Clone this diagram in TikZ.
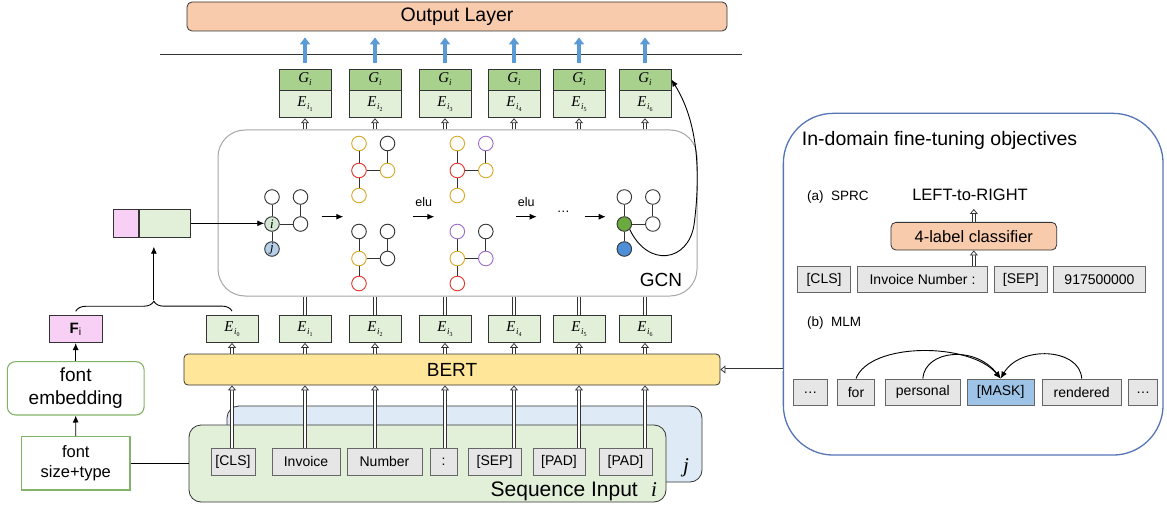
\documentclass[tikz,border=0pt]{standalone}
\usepackage{fontspec}
\setmainfont{Liberation Sans}
\newfontfamily\tms{Liberation Serif}
\usetikzlibrary{arrows.meta,decorations.pathreplacing,calc}
\definecolor{peach}{HTML}{F8CBAD}
\definecolor{gfill}{HTML}{A9D18E}
\definecolor{efill}{HTML}{E2F0D9}
\definecolor{bertfill}{HTML}{FFE699}
\definecolor{jfill}{HTML}{DEEBF7}
\definecolor{tokgray}{HTML}{E7E6E6}
\definecolor{pinkf}{HTML}{F9D0F5}
\definecolor{fgreen}{HTML}{82B366}
\definecolor{gold}{HTML}{D9A825}
\definecolor{redc}{HTML}{E0352B}
\definecolor{purp}{HTML}{9B6CCB}
\definecolor{gcngray}{HTML}{A6A6A6}
\definecolor{arrblue}{HTML}{5B9BD5}
\definecolor{ngreen}{HTML}{6AAA3F}
\definecolor{nblue}{HTML}{4D8FD6}
\definecolor{ilight}{HTML}{D5E8D4}
\definecolor{jlight}{HTML}{B5CFE8}
\definecolor{maskf}{HTML}{9DC3E6}
\definecolor{panelc}{HTML}{5575B5}
\definecolor{dk}{HTML}{333333}

\newcommand\Elab[1]{{\fontsize{15}{15}\selectfont\tms\itshape E}\kern0.5pt\raisebox{-3pt}{\fontsize{9}{9}\selectfont\tms\itshape i}\raisebox{-5pt}{\fontsize{6}{6}\selectfont\tms #1}}
\newcommand\Glab{{\fontsize{15}{15}\selectfont\tms\itshape G}\raisebox{-3pt}{\fontsize{9}{9}\selectfont\tms\itshape i}}

\newcommand\ggraph[8]{%
  \node[gn,#4] (#1TL) at (#2,#3) {};
  \node[gn,#5] (#1TR) at ($(#2,#3)+(28.5,0)$) {};
  \node[gn,#6] (#1ML) at ($(#2,#3)+(0,27)$) {};
  \node[gn,#7] (#1MR) at ($(#2,#3)+(28.5,27)$) {};
  \node[gn,#8] (#1BL) at ($(#2,#3)+(0,52)$) {};
  \draw[gedge] (#1TL) -- (#1ML) (#1ML) -- (#1BL) (#1ML) -- (#1MR) (#1TR) -- (#1MR);
}

\begin{document}
\begin{tikzpicture}[x=1pt,y=-1pt,
  bx/.style={draw=dk, line width=0.8pt, inner sep=0pt},
  tok/.style={draw=black!60, line width=0.8pt, fill=tokgray, inner sep=0pt, minimum height=27pt, font=\fontsize{14}{16}\selectfont},
  dline/.style={draw=dk, double=white, double distance=2pt, line width=0.75pt},
  darrow/.style={dline, -{Triangle[open, fill=white, length=5pt, width=8pt, line width=0.75pt]}},
  gn/.style={circle, line width=0.9pt, minimum size=14.6pt, inner sep=0pt, fill=white},
  gedge/.style={draw=dk, line width=0.9pt},
  arr/.style={draw=black, line width=0.9pt, -{Latex[length=7pt,width=6pt]}},
  bluearr/.style={draw=arrblue, line width=3.6pt, -{Triangle[length=7pt,width=10pt]}}
]
\useasboundingbox (0,0) rectangle (1167,508);

% ---------- output layer ----------
\node[bx, rounded corners=5pt, fill=peach, minimum width=540pt, minimum height=29pt, font=\fontsize{19.5}{22}\selectfont] (out) at (457,16.5) {Output Layer};
\coordinate (hlA) at (160,54);
\coordinate (hlB) at (742,54);
\draw[draw=dk, line width=0.8pt] (hlA) -- (hlB);

% ---------- upper G/E boxes ----------
\foreach \k/\x in {1/305,2/375,3/445,4/514,5/579,6/645} {
  \node[bx, fill=gfill, minimum width=52pt, minimum height=21pt] (G\k) at (\x,79.5) {\Glab};
  \node[bx, fill=efill, minimum width=52pt, minimum height=27pt, anchor=north] (U\k) at (G\k.south) {\Elab{\k}};
  \draw[bluearr] ($(G\k.north)+(0,-6)$) -- ($(G\k.north |- out.south)+(0,6)$);
}

% ---------- GCN ----------
\node[draw=gcngray, line width=1pt, rounded corners=27pt, minimum width=479pt, minimum height=166pt, inner sep=0pt] (gcn) at (457.5,213) {};
\node[font=\fontsize{19}{19}\selectfont] (gcnlab) at (661,280) {GCN};

\ggraph{ga}{272}{197}{draw=dk}{draw=dk}{draw=dk,fill=ilight}{draw=dk}{draw=dk,fill=jlight}
\node[font=\fontsize{13}{13}\selectfont\tms\itshape] (gai) at (gaML) {i};
\node[font=\fontsize{13}{13}\selectfont\tms\itshape] (gaj) at (gaBL) {j};
\ggraph{gb}{359}{143.5}{draw=gold}{draw=dk}{draw=redc}{draw=gold}{draw=gold}
\ggraph{gc}{359}{231.5}{draw=dk}{draw=dk}{draw=gold}{draw=dk}{draw=redc}
\ggraph{gd}{457.3}{143.5}{draw=gold}{draw=purp}{draw=redc}{draw=gold}{draw=gold}
\ggraph{ge}{457.3}{231.5}{draw=purp}{draw=dk}{draw=gold}{draw=purp}{draw=redc}
\ggraph{gf}{624.3}{197}{draw=dk}{draw=dk}{draw=dk,fill=ngreen}{draw=dk}{draw=dk,fill=nblue}

\coordinate (m1a) at (321.7,216.7); \coordinate (m1b) at (343.3,216.7);
\coordinate (m2a) at (413.3,216.7); \coordinate (m2b) at (434.3,216.7);
\coordinate (m3a) at (516,216.7);   \coordinate (m3b) at (536.7,216.7);
\coordinate (m4a) at (585,216.7);   \coordinate (m4b) at (605.7,216.7);
\draw[arr] (m1a) -- (m1b);
\draw[arr] (m2a) -- (m2b);
\draw[arr] (m3a) -- (m3b);
\draw[arr] (m4a) -- (m4b);
\node[font=\fontsize{12.5}{13}\selectfont] (elu1) at (423.8,202) {elu};
\node[font=\fontsize{12.5}{13}\selectfont] (elu2) at (526.3,202) {elu};
\node[font=\fontsize{13}{13}\selectfont] (gdots) at (563.3,212) {…};

\draw[line width=0.9pt, -{Latex[length=7pt,width=6pt]}] (gfML.south east) .. controls (648,268) and (688,262) .. (694,225) .. controls (700,180) and (700,125) .. (G6.east);

% ---------- left side ----------
\node[bx, fill=pinkf, minimum width=25.4pt, minimum height=28pt] (cpink) at (126,223.3) {};
\node[bx, fill=efill, minimum width=51.3pt, minimum height=28pt, anchor=west] (cgreen) at (cpink.east) {};
\draw[arr] (cgreen.east) -- (cgreen.east -| gaML.west);

\node[bx, fill=pinkf, minimum width=52.7pt, minimum height=27pt, font=\fontsize{15}{15}\selectfont] (F) at (75.7,329.2) {\textbf{F}\textsubscript{i}};
\node[draw=fgreen, line width=1.1pt, rounded corners=8pt, minimum width=136.7pt, minimum height=53.3pt, align=center, inner sep=0pt, font=\fontsize{19}{23}\selectfont] (femb) at (75.7,388.3) {font\\embedding};
\node[draw=fgreen, line width=1.1pt, minimum width=108.3pt, minimum height=53.3pt, align=center, inner sep=0pt, font=\fontsize{16.5}{20}\selectfont] (fst) at (75.8,463.3) {font\\size+type};
\draw[arr] (fst.north) -- (femb.south);
\draw[arr] (femb.north) -- (F.south);

% ---------- sequence input ----------
\node[bx, rounded corners=12pt, fill=jfill, minimum width=475pt, minimum height=76pt] (jbox) at (464.5,444) {};
\node[bx, rounded corners=12pt, fill=efill, minimum width=477pt, minimum height=77pt] (seq) at (427.5,463.5) {};
\draw[line width=0.8pt] (fst.east) -- (fst.east -| seq.west);
\node[font=\fontsize{21}{21}\selectfont, anchor=base east, inner sep=0pt] (seqlab) at (638,496) {Sequence Input};
\node[font=\fontsize{21}{21}\selectfont\tms\itshape, anchor=base, inner sep=0pt] (seqi) at (654,496) {i};
\node[font=\fontsize{21}{21}\selectfont\tms\itshape, anchor=base, inner sep=0pt] (jlab) at (686,472) {j};

\node[tok, minimum width=44pt] (T0) at (233,461.5) {[CLS]};
\node[tok, minimum width=68pt] (T1) at (306,461.5) {Invoice};
\node[tok, minimum width=75pt] (T2) at (384.5,461.5) {Number};
\node[tok, minimum width=27pt] (T3) at (443.5,461.5) {:};
\node[tok, minimum width=53pt] (T4) at (494.5,461.5) {[SEP]};
\node[tok, minimum width=52pt] (T5) at (559,461.5) {[PAD]};
\node[tok, minimum width=53pt] (T6) at (625.5,461.5) {[PAD]};

\node[bx, rounded corners=4pt, fill=bertfill, minimum width=536pt, minimum height=31pt, font=\fontsize{19}{19}\selectfont] (bert) at (452,369.5) {BERT};

\foreach \k/\x in {0/232,1/305,2/375,3/445,4/514,5/579,6/645} {
  \node[bx, fill=efill, minimum width=52pt, minimum height=27pt] (E\k) at (\x,329) {\Elab{\k}};
  \draw[darrow] (E\k.south |- T\k.north) -- (E\k.south |- bert.south);
  \draw[darrow] (E\k.south |- bert.north) -- (E\k.south);
}
\foreach \k in {1,...,6} {
  \draw[dline] (E\k.north) -- (E\k.north |- gcn.south);
  \draw[darrow] (U\k.south |- gcn.north) -- (U\k.south);
}

% brace
\draw[line width=0.9pt, decorate, decoration={brace, amplitude=10pt}] ([yshift=4pt]F.north) -- ([yshift=4pt]E0.north);
\coordinate (bt) at ($(F.north)!0.5!(E0.north)+(0,-15)$);
\coordinate (ct) at ($(bt |- cgreen.south)+(0,9)$);
\draw[arr] (bt) -- (ct);

% ---------- right panel ----------
\node[draw=panelc, line width=1.3pt, rounded corners=50pt, minimum width=379.7pt, minimum height=341.7pt, inner sep=0pt] (panel) at (973.2,284.2) {};
\node[anchor=west, inner sep=0pt, font=\fontsize{19.5}{20}\selectfont] (ptitle) at (801.7,140) {In-domain fine-tuning objectives};
\node[anchor=west, inner sep=0pt, font=\fontsize{13.5}{14}\selectfont] (sprc) at (807,197) {(a)\ \ SPRC};
\node[font=\fontsize{16.5}{17}\selectfont] (l2r) at (970,195) {LEFT-to-RIGHT};
\node[bx, rounded corners=5pt, fill=peach, minimum width=165.7pt, minimum height=27.7pt, font=\fontsize{16.5}{17}\selectfont] (clsf) at (973.8,236.2) {4-label classifier};

\node[tok, minimum height=26pt, minimum width=53.4pt] (A0) at (824,279.5) {[CLS]};
\node[tok, minimum height=26pt, minimum width=129.6pt] (A1) at (922.5,279.5) {Invoice Number :};
\node[tok, minimum height=26pt, minimum width=53.7pt] (A2) at (1020.8,279.5) {[SEP]};
\node[tok, minimum height=26pt, minimum width=92.4pt] (A3) at (1099.5,279.5) {917500000};
\draw[darrow] (clsf.south |- A1.north) -- (clsf.south);
\coordinate (l2rb) at ($(clsf.north)+(0,-13)$);
\draw[darrow] (clsf.north) -- (l2rb);

\node[anchor=west, inner sep=0pt, font=\fontsize{13.5}{14}\selectfont] (mlm) at (807,323.3) {(b)\ \ MLM};
\node[tok, minimum height=26.7pt, minimum width=34pt] (B0) at (810.3,392.3) {…};
\node[tok, minimum height=26.7pt, minimum width=37.4pt] (B1) at (856,392.3) {for};
\node[tok, minimum height=26.7pt, minimum width=75.7pt] (B2) at (922.8,392.3) {personal};
\node[tok, minimum height=26.7pt, minimum width=66.7pt, fill=maskf] (B3) at (1000.7,392.3) {[MASK]};
\node[tok, minimum height=26.7pt, minimum width=78.7pt] (B4) at (1081.7,392.3) {rendered};
\node[tok, minimum height=26.7pt, minimum width=29.4pt] (B5) at (1143,392.3) {…};
\draw[arr] (B1.north) .. controls (870,342) and (970,342) .. (B3.north);
\draw[arr] (B2.north) .. controls (925,350) and (975,345) .. (B3.north);
\draw[arr] (B4.north) .. controls (1080,348) and (1020,345) .. (B3.north);

\draw[darrow] (bert.east -| panel.west) -- (bert.east);
\end{tikzpicture}
\end{document}
